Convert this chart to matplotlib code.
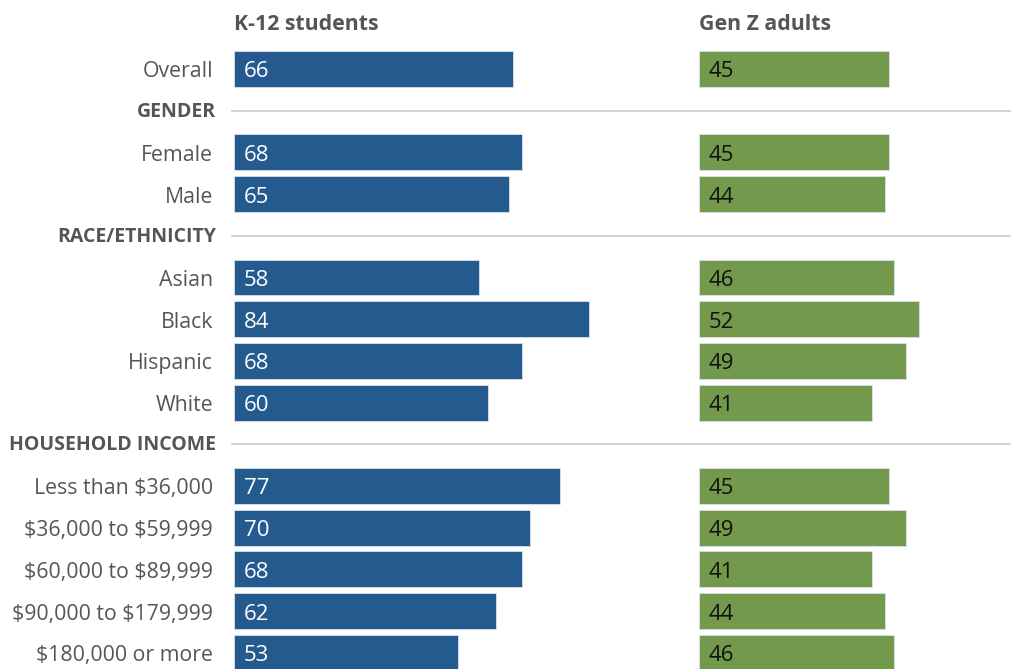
import matplotlib.pyplot as plt
import numpy as np

plt.rcParams['font.family'] = ['Open Sans', 'DejaVu Sans']
plt.rcParams['text.parse_math'] = False

# rows top to bottom; None marks a section header row
labels = ['Overall', None, 'Female', 'Male', None, 'Asian', 'Black', 'Hispanic', 'White',
          None, 'Less than $36,000', '$36,000 to $59,999', '$60,000 to $89,999',
          '$90,000 to $179,999', '$180,000 or more']
headers = ['GENDER', 'RACE/ETHNICITY', 'HOUSEHOLD INCOME']
students = [66, None, 68, 65, None, 58, 84, 68, 60, None, 77, 70, 68, 62, 53]
genz = [45, None, 45, 44, None, 46, 52, 49, 41, None, 45, 49, 41, 44, 46]
col_titles = ['K-12 students', 'Gen Z adults']

blue = '#255a8e'
green = '#72994c'
grey = '#555555'

W, H = 1011, 669
fig = plt.figure(figsize=(W / 100, H / 100), dpi=100)

row_px = 41.7
top_row = 69
ylim = ((H - top_row) / row_px, -top_row / row_px)
unit_px = 4.23  # pixels per percentage point
dy = 3 / row_px  # nudge text down to sit centred on the bars

# background axes for labels and section rules, in pixel x
bg = fig.add_axes([0, 0, 1, 1])
bg.set_xlim(0, W)
bg.set_ylim(*ylim)
bg.axis('off')

ax1 = fig.add_axes([234 / W, 0, 465 / W, 1])
ax1.set_xlim(0, 465 / unit_px)
ax2 = fig.add_axes([699 / W, 0, 312 / W, 1])
ax2.set_xlim(0, 312 / unit_px)

h_iter = iter(headers)
for i, lab in enumerate(labels):
    if lab is None:
        bg.text(216, i + dy / 3, next(h_iter), ha='right', va='center', fontsize=14,
                fontweight='bold', color=grey)
        bg.plot([232, W], [i, i], color='#c8c8c8', lw=1.1)
    else:
        bg.text(213, i + dy, lab, ha='right', va='center', fontsize=15.3, color=grey)

for ax, vals, color, tcolor, title in [(ax1, students, blue, 'white', col_titles[0]),
                                        (ax2, genz, green, '#111111', col_titles[1])]:
    ax.set_ylim(*ylim)
    ax.axis('off')
    idx = [i for i, v in enumerate(vals) if v is not None]
    v = [vals[i] for i in idx]
    ax.barh(idx, v, height=0.86, color=color, edgecolor='#d8e2ec', linewidth=0.6)
    for i, val in zip(idx, v):
        ax.annotate(str(val), (0, i + dy), xytext=(7, 0), textcoords='offset points',
                    ha='left', va='center', fontsize=16, color=tcolor)
    ax.text(0, (22 - top_row) / row_px + dy, title, ha='left', va='center',
            fontsize=15.3, fontweight='bold', color=grey)

fig.savefig('out.png', dpi=100)
